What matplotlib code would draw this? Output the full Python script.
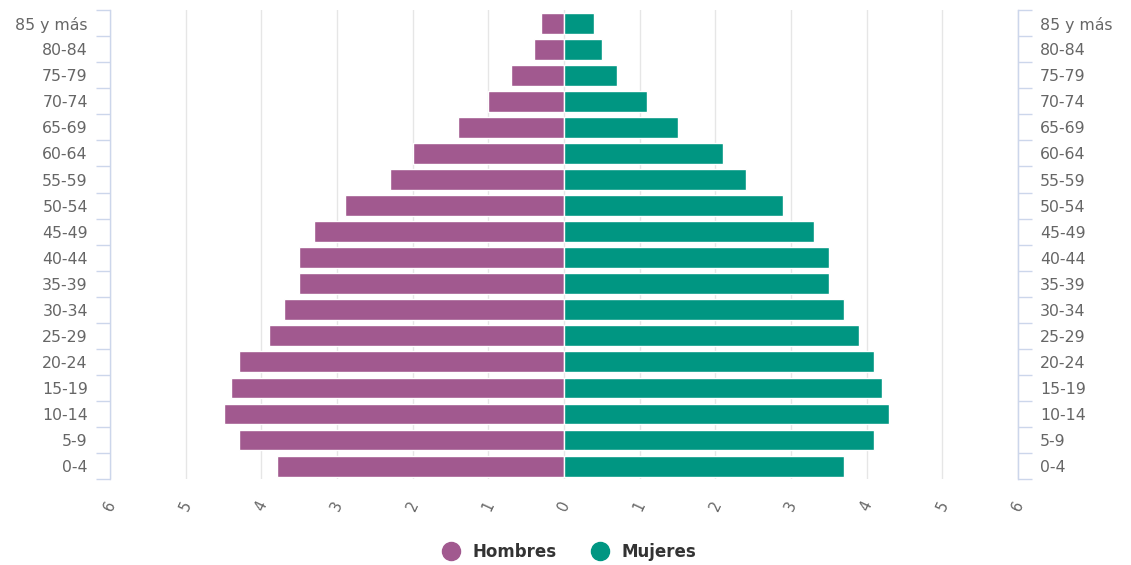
import matplotlib
matplotlib.use("Agg")
import matplotlib.pyplot as plt
from matplotlib.lines import Line2D
import numpy as np

categories = ["0-4", "5-9", "10-14", "15-19", "20-24", "25-29", "30-34", "35-39",
              "40-44", "45-49", "50-54", "55-59", "60-64", "65-69", "70-74",
              "75-79", "80-84", "85 y más"]
hombres = [3.8, 4.3, 4.5, 4.4, 4.3, 3.9, 3.7, 3.5, 3.5, 3.3, 2.9, 2.3, 2.0, 1.4, 1.0, 0.7, 0.4, 0.3]
mujeres = [3.7, 4.1, 4.3, 4.2, 4.1, 3.9, 3.7, 3.5, 3.5, 3.3, 2.9, 2.4, 2.1, 1.5, 1.1, 0.7, 0.5, 0.4]
xticks = [-6, -5, -4, -3, -2, -1, 0, 1, 2, 3, 4, 5, 6]
series_names = ["Hombres", "Mujeres"]

c_h = "#a1598f"
c_m = "#009682"
axis_col = "#ccd6eb"
grid_col = "#e6e6e6"
txt_col = "#666666"

plt.rcParams['font.family'] = ['DejaVu Sans']

fig = plt.figure(figsize=(11.31, 5.65), dpi=100)
ax = fig.add_axes([0.0973, 0.152, 0.8028, 0.830])

y = np.arange(len(categories))
ax.barh(y, [-v for v in hombres], height=0.8, color=c_h, edgecolor="white", linewidth=1, zorder=3)
ax.barh(y, mujeres, height=0.8, color=c_m, edgecolor="white", linewidth=1, zorder=3)

ax.set_xlim(-6, 6)
ax.set_ylim(-0.5, len(categories) - 0.5)
ax.set_xticks(xticks)
ax.set_xticklabels([str(abs(t)) for t in xticks], rotation=65, color=txt_col, fontsize=10.5)
ax.tick_params(axis='x', length=0, pad=19)
for lab in ax.get_xticklabels():
    lab.set_ha('center')
    lab.set_va('center')
ax.grid(axis='x', color=grid_col, linewidth=1, zorder=0)

for s in ["top", "bottom"]:
    ax.spines[s].set_visible(False)
for s in ["left", "right"]:
    ax.spines[s].set_color(axis_col)
    ax.spines[s].set_linewidth(1)

# left axis labels
ax.set_yticks(y)
ax.set_yticklabels(categories, color=txt_col, fontsize=11.3)
ax.set_yticks(np.arange(-0.5, len(categories), 1.0), minor=True)
ax.tick_params(axis='y', which='major', length=0, pad=16)
ax.tick_params(axis='y', which='minor', length=10, color=axis_col, width=1)

# right axis
ax2 = ax.twinx()
ax2.set_ylim(ax.get_ylim())
ax2.set_yticks(y)
ax2.set_yticklabels(categories, color=txt_col, fontsize=11.3)
ax2.set_yticks(np.arange(-0.5, len(categories), 1.0), minor=True)
ax2.tick_params(axis='y', which='major', length=0, pad=16)
ax2.tick_params(axis='y', which='minor', length=10, color=axis_col, width=1)
for s in ["top", "bottom", "left"]:
    ax2.spines[s].set_visible(False)
ax2.spines["right"].set_color(axis_col)

handles = [Line2D([], [], marker='o', linestyle='none', markersize=13, color=c)
           for c in (c_h, c_m)]
leg = fig.legend(handles, series_names, loc='center', bbox_to_anchor=(0.5, 0.023),
                 ncol=2, frameon=False, handletextpad=0.3, columnspacing=1.6,
                 prop={'weight': 'bold', 'size': 12})
for t in leg.get_texts():
    t.set_color("#333333")

fig.savefig("out.png", dpi=100)
